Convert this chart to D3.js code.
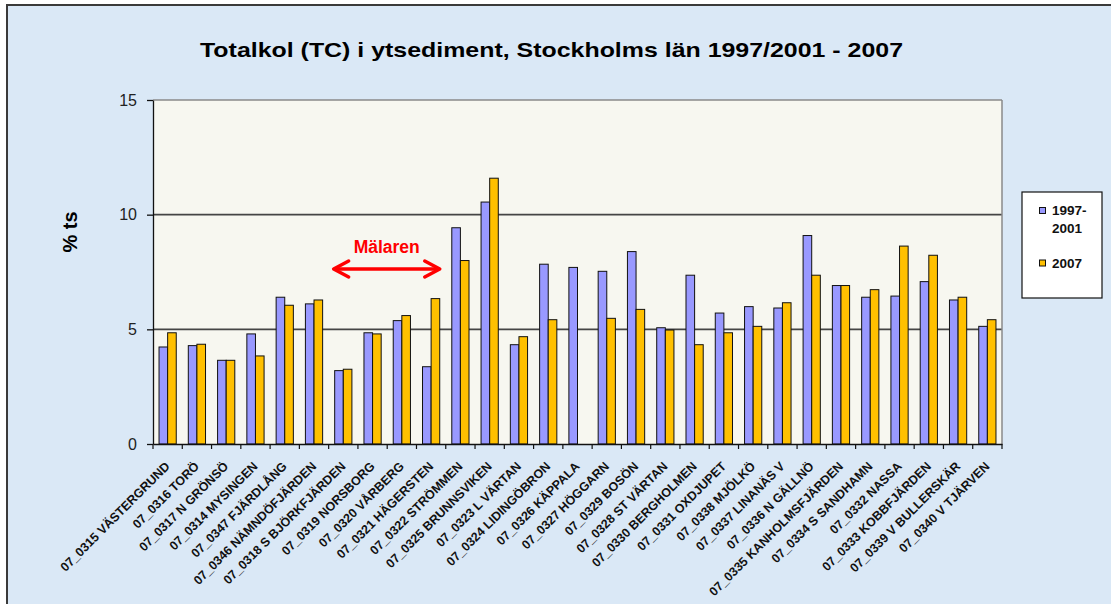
<!DOCTYPE html>
<html>
<head>
<meta charset="utf-8">
<script src="https://cdn.jsdelivr.net/npm/d3@7"></script>
<style>
  body { margin: 0; background: #fff; }
  text { font-family: "Liberation Sans", Arial, sans-serif; }
</style>
</head>
<body>
<div id="container"></div>
<script>
var categories = [
  "07_0315 VÄSTERGRUND", "07_0316 TORÖ", "07_0317 N GRÖNSÖ", "07_0314 MYSINGEN",
  "07_0347 FJÄRDLÅNG", "07_0346 NÄMNDÖFJÄRDEN", "07_0318 S BJÖRKFJÄRDEN", "07_0319 NORSBORG",
  "07_0320 VÅRBERG", "07_0321 HÄGERSTEN", "07_0322 STRÖMMEN", "07_0325 BRUNNSVIKEN",
  "07_0323 L VÄRTAN", "07_0324 LIDINGÖBRON", "07_0326 KÄPPALA", "07_0327 HÖGGARN",
  "07_0329 BOSÖN", "07_0328 ST VÄRTAN", "07_0330 BERGHOLMEN", "07_0331 OXDJUPET",
  "07_0338 MJÖLKÖ", "07_0337 LINANÄS V", "07_0336 N GÄLLNÖ", "07_0335 KANHOLMSFJÄRDEN",
  "07_0334 S SANDHAMN", "07_0332 NASSA", "07_0333 KOBBFJÄRDEN", "07_0339 V BULLERSKÄR",
  "07_0340 V TJÄRVEN"
];
var seriesNames = ["1997-2001", "2007"];
var values9701 = [4.23, 4.29, 3.65, 4.80, 6.40, 6.11, 3.20, 4.85, 5.38, 3.37, 9.43, 10.55,
                  4.33, 7.84, 7.70, 7.53, 8.39, 5.07, 7.36, 5.71, 5.99, 5.93, 9.09, 6.91,
                  6.40, 6.45, 7.08, 6.28, 5.13];
var values2007 = [4.85, 4.35, 3.65, 3.84, 6.05, 6.28, 3.26, 4.80, 5.60, 6.34, 8.00, 11.59,
                  4.68, 5.42, null, 5.48, 5.87, 4.97, 4.33, 4.85, 5.13, 6.16, 7.36, 6.91,
                  6.73, 8.63, 8.23, 6.40, 5.42];
var yTicks = [0, 5, 10, 15];
var malarenStations = ["07_0318 S BJÖRKFJÄRDEN", "07_0321 HÄGERSTEN"];

var colors = {"1997-2001": "#9999ff", "2007": "#ffc000"};

var totalWidth = 1111,
    totalHeight = 604,
    margin = {top: 100, left: 153},
    width = 849,
    height = 344;

var svg = d3.select("#container")
            .append("svg")
            .attr("width", totalWidth)
            .attr("height", totalHeight);

// chart area background
svg.append("rect")
   .attr("x", 7).attr("y", 5)
   .attr("width", totalWidth).attr("height", totalHeight)
   .attr("fill", "#dae8f6")
   .attr("stroke", "#3a3a3a")
   .attr("stroke-width", 2);

svg.append("text")
   .attr("x", 551.5).attr("y", 57)
   .attr("text-anchor", "middle")
   .attr("font-size", 21).attr("font-weight", "bold")
   .attr("textLength", 703).attr("lengthAdjust", "spacingAndGlyphs")
   .text("Totalkol (TC) i ytsediment,  Stockholms län 1997/2001 - 2007");

svg.append("text")
   .attr("transform", "translate(77,232) rotate(-90)")
   .attr("text-anchor", "middle")
   .attr("font-size", 20).attr("font-weight", "bold")
   .text("% ts");

var g = svg.append("g")
           .attr("transform", "translate(" + margin.left + "," + margin.top + ")");

var xScale = d3.scaleBand().domain(categories).range([0, width]).padding(0);
var xSub = d3.scaleBand().domain(seriesNames).range([0, xScale.bandwidth()])
             .paddingInner(0).paddingOuter(0.7);
var yScale = d3.scaleLinear().domain([0, 15]).range([height, 0]);

g.append("rect")
 .attr("width", width).attr("height", height)
 .attr("fill", "#f7f7f0");

// gridlines
g.append("g").selectAll("line")
 .data(yTicks.filter(function(d) { return d > 0; })).enter()
 .append("line")
 .attr("x1", 0).attr("x2", width)
 .attr("y1", function(d) { return yScale(d); })
 .attr("y2", function(d) { return yScale(d); })
 .attr("stroke", function(d) { return d === 15 ? "#8a8a8a" : "#454545"; })
 .attr("stroke-width", function(d) { return d === 15 ? 1.5 : 1.6; });
g.append("line")
 .attr("x1", width).attr("x2", width)
 .attr("y1", 0).attr("y2", height)
 .attr("stroke", "#8a8a8a").attr("stroke-width", 1.5);

// bars
var rows = categories.map(function(c, i) {
  return {cat: c, vals: [{s: seriesNames[0], v: values9701[i]}, {s: seriesNames[1], v: values2007[i]}]};
});
g.append("g").attr("class", "bars")
 .selectAll("g").data(rows).enter()
 .append("g")
 .attr("transform", function(d) { return "translate(" + xScale(d.cat) + ",0)"; })
 .selectAll("rect")
 .data(function(d) { return d.vals.filter(function(e) { return e.v != null; }); }).enter()
 .append("rect")
 .attr("x", function(d) { return xSub(d.s); })
 .attr("width", xSub.bandwidth())
 .attr("y", function(d) { return yScale(d.v); })
 .attr("height", function(d) { return height - yScale(d.v); })
 .attr("fill", function(d) { return colors[d.s]; })
 .attr("stroke", "#111").attr("stroke-width", 1);

// axes
var yAxis = d3.axisLeft(yScale).tickValues(yTicks).tickSize(6).tickSizeOuter(0).tickPadding(10)
              .tickFormat(d3.format("d"));
var yG = g.append("g").attr("class", "y-axis").call(yAxis);
yG.selectAll("text").attr("font-size", 16).attr("font-family", "Liberation Sans, Arial, sans-serif").attr("fill", "#222");
yG.selectAll("line, path").attr("stroke", "#111").attr("stroke-width", 1.3);

var xAxis = d3.axisBottom(xScale).tickSize(0).tickSizeOuter(0).tickFormat("");
var xG = g.append("g").attr("class", "x-axis")
          .attr("transform", "translate(0," + height + ")").call(xAxis);
xG.select("path").attr("stroke", "#111").attr("stroke-width", 1.5);
xG.selectAll(".bound")
  .data(categories.map(function(c) { return xScale(c); }).concat([width])).enter()
  .append("line").attr("class", "bound")
  .attr("x1", function(d) { return d; }).attr("x2", function(d) { return d; })
  .attr("y1", 0).attr("y2", 5)
  .attr("stroke", "#111").attr("stroke-width", 1.2);

xG.selectAll(".xlab").data(categories).enter()
  .append("text").attr("class", "xlab")
  .attr("transform", function(d) {
    return "translate(" + (xScale(d) + xScale.bandwidth() / 2 + 3) + ",23) rotate(-45)";
  })
  .attr("text-anchor", "end")
  .attr("font-size", 12.5).attr("font-weight", "bold")
  .attr("fill", "#111")
  .text(function(d) { return d; });

// Mälaren annotation
var ax1 = xScale(malarenStations[0]) + 5,
    ax2 = xScale(malarenStations[1]) + xScale.bandwidth() - 6,
    ay = yScale(7.63);
var arrow = g.append("g").attr("stroke", "#ff0000").attr("stroke-width", 3.5)
             .attr("fill", "none").attr("stroke-linecap", "round").attr("stroke-linejoin", "round");
arrow.append("line").attr("x1", ax1 + 2).attr("x2", ax2 - 2).attr("y1", ay).attr("y2", ay);
arrow.append("polyline").attr("points", [[ax1 + 15, ay - 8], [ax1, ay], [ax1 + 15, ay + 8]].join(" "));
arrow.append("polyline").attr("points", [[ax2 - 15, ay - 8], [ax2, ay], [ax2 - 15, ay + 8]].join(" "));
g.append("text")
 .attr("x", (ax1 + ax2) / 2).attr("y", yScale(8.35))
 .attr("text-anchor", "middle")
 .attr("font-size", 17.5)
 .attr("font-weight", "bold")
 .attr("fill", "#ff0000")
 .text("Mälaren");

// legend
var legend = svg.append("g").attr("transform", "translate(1022,192)");
legend.append("rect")
      .attr("width", 80).attr("height", 106)
      .attr("fill", "#fff").attr("stroke", "#111").attr("stroke-width", 1.2);
var legendLines = [["1997-", "2001"], ["2007"]];
var legendY = [15.5, 68];
seriesNames.forEach(function(s, i) {
  var item = legend.append("g").attr("transform", "translate(0," + legendY[i] + ")");
  item.append("rect")
      .attr("x", 17.5).attr("y", 0).attr("width", 6).attr("height", 6)
      .attr("fill", colors[s]).attr("stroke", "#111").attr("stroke-width", 1);
  legendLines[i].forEach(function(t, j) {
    item.append("text")
        .attr("x", 30).attr("y", 7.5 + j * 17.5)
        .attr("font-size", 13.5).attr("font-weight", "bold")
        .attr("fill", "#111")
        .text(t);
  });
});
</script>
</body>
</html>
